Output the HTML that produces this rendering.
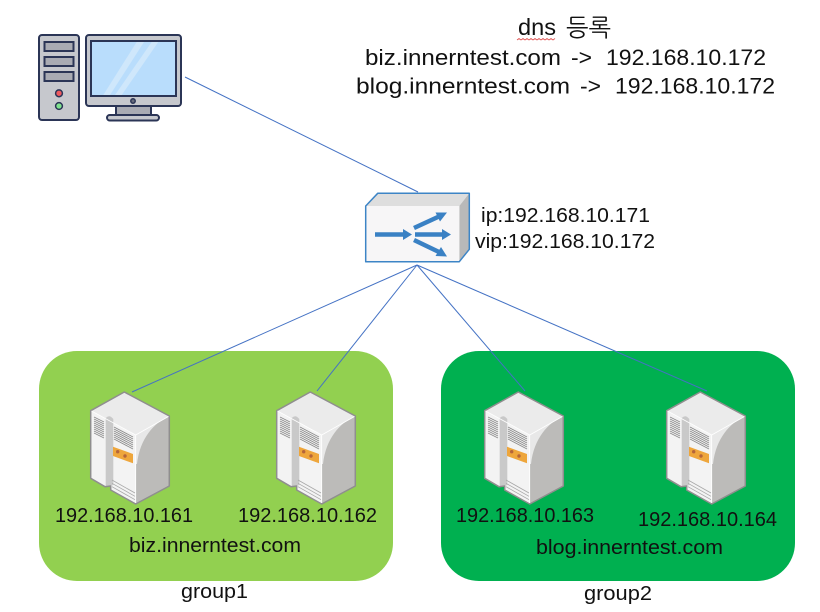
<!DOCTYPE html>
<html>
<head>
<meta charset="utf-8">
<style>
html,body{margin:0;padding:0;background:#fff;width:820px;height:612px;overflow:hidden}
svg{display:block}
text{font-family:"Liberation Sans","NanumGothic","Noto Sans CJK KR",sans-serif;fill:#111}
</style>
</head>
<body>
<svg width="820" height="612" viewBox="0 0 820 612" xmlns="http://www.w3.org/2000/svg">
<defs>
<g id="srv">
  <polygon points="34.3,0 79.3,24 45.7,43 0.7,18.7" fill="#ebebeb"/>
  <polygon points="0.7,18.7 45.7,43 45.7,112 20.7,98 20.7,94 15,94.7 0.7,86.3" fill="#f3f3f3"/>
  <polygon points="45.7,43 79.3,24 79.3,94 45.7,112" fill="#bcbbb9"/>
  <path d="M45.7,43 L79.3,24 C64,31 50,46 47,72 L45.7,72 Z" fill="#e8e8e8"/>
  <path d="M15.7,26 Q19.5,22 23.3,27 L23.3,93 L20.7,94 L15.7,94.700 Z" fill="#c9c9c9"/>
  <g stroke="#8a8a8a" stroke-width="0.8" fill="none">
    <path d="M4,25 L14,30 M4,27 L14,32 M4,29 L14,34 M4,31 L14,36 M4,33 L14,38 M4,35 L14,40 M4,37 L14,42 M4,39 L14,44 M4,41 L14,46"/>
    <path d="M24,35 L43,45 M24,37 L43,47 M24,39 L43,49 M24,41 L43,51 M24,43 L43,53 M24,45 L43,55 M24,47 L43,57"/>
    <path d="M22,88 L45,101 M22,91.300 L45,104.300 M22,94.700 L45,107.700" stroke="#a8a8a8"/>
  </g>
  <polygon points="23,54.700 43,62 43,71.300 23,64" fill="#eea63c"/>
  <circle cx="27.700" cy="59.700" r="1.700" fill="#b5653a"/>
  <circle cx="35" cy="64" r="1.700" fill="#b5653a"/>
  <polygon points="34.300,0 79.300,24 79.300,94 45.700,112 20.700,98 20.700,94 15,94.700 0.700,86.300 0.700,18.700" fill="none" stroke="#8f8e8e" stroke-width="1.500" stroke-linejoin="round"/>
  <path d="M1.500,19 L45.700,43 L78.500,24.500 M45.700,43 V111" fill="none" stroke="#fff" stroke-width="0.800"/>
</g>
</defs>

<rect x="39" y="351" width="354" height="230" rx="38" fill="#92d050"/>
<rect x="441" y="351" width="354" height="230" rx="38" fill="#00b050"/>

<g transform="translate(39,35)" stroke="#2b3556" stroke-width="2">
  <rect x="0" y="0" width="40" height="85" rx="3" fill="#c6c8cd"/>
  <rect x="5.500" y="7" width="29" height="9" fill="#a9abb3"/>
  <rect x="5.500" y="22" width="29" height="9" fill="#a9abb3"/>
  <rect x="5.500" y="37" width="29" height="9" fill="#a9abb3"/>
  <circle cx="20" cy="58.300" r="3.400" fill="#ef5a5f" stroke-width="1.500"/>
  <circle cx="20" cy="71" r="3.400" fill="#7fe28d" stroke-width="1.500"/>
  <rect x="47" y="0" width="95" height="71" rx="3" fill="#c6c8cd"/>
  <rect x="52" y="6" width="85" height="55" fill="#b9ddfc"/>
  <polygon points="64.300,60 97.700,7 105,7 71,60" fill="#cfe7fb" stroke="none"/>
  <polygon points="76,60 112.700,7 119.300,7 82.700,60" fill="#cfe7fb" stroke="none"/>
  <circle cx="94" cy="66" r="2.200" fill="#666b7c" stroke-width="1.500"/>
  <rect x="77" y="71" width="35" height="9" fill="#a9abb3"/>
  <rect x="68" y="80" width="52" height="5.500" rx="2.700" fill="#c6c8cd"/>
</g>

<g stroke="#4472c4" stroke-width="1" fill="none">
  <line x1="185" y1="77" x2="418" y2="192"/>
  <line x1="417" y1="265" x2="132" y2="392"/>
  <line x1="417" y1="265" x2="317" y2="391"/>
  <line x1="417" y1="265" x2="525" y2="391"/>
  <line x1="417" y1="265" x2="707" y2="391"/>
</g>

<g>
  <polygon points="365.700,206 377.700,193.300 469.300,193.300 459.300,206" fill="#dedede"/>
  <polygon points="459.300,206 469.300,193.300 469.300,249.300 459.300,261.700" fill="#b9b9b9"/>
  <rect x="365.700" y="206" width="93.600" height="55.700" fill="#f7f6f7"/>
  <polygon points="365.700,206 377.700,193.300 469.300,193.300 469.300,249.300 459.300,261.700 365.700,261.700" fill="none" stroke="#3d85c6" stroke-width="1.500" stroke-linejoin="round"/>
  <path d="M375,234.500 H403" stroke="#3a81c4" stroke-width="4.500"/>
  <polygon points="403,229 412,234.500 403,240" fill="#3a81c4"/>
  <path d="M415,234.500 H443" stroke="#3a81c4" stroke-width="4.500"/>
  <polygon points="442,229 451,234.500 442,240" fill="#3a81c4"/>
  <path d="M414,228 L439,216.500" stroke="#3a81c4" stroke-width="4.500"/>
  <polygon points="435.500,212.500 447,212.500 440,221.500" fill="#3a81c4"/>
  <path d="M414,240 L439,252" stroke="#3a81c4" stroke-width="4.500"/>
  <polygon points="441,247 447,256.500 435.500,256" fill="#3a81c4"/>
</g>

<use href="#srv" x="90" y="392"/>
<use href="#srv" x="276" y="392"/>
<use href="#srv" x="484" y="392"/>
<use href="#srv" x="666" y="392"/>

<text x="518" y="35" font-size="23" textLength="38" lengthAdjust="spacingAndGlyphs">dns</text>
<text x="566" y="36" font-size="24" textLength="45" lengthAdjust="spacingAndGlyphs">등록</text>
<path d="M517,40 l2,-1.500 l2,1.500 l2,-1.500 l2,1.500 l2,-1.500 l2,1.500 l2,-1.500 l2,1.500 l2,-1.500 l2,1.500 l2,-1.500 l2,1.500 l2,-1.500 l2,1.500 l2,-1.500 l2,1.500 l2,-1.500 l2,1.500 l2,-1.500" fill="none" stroke="#e0504f" stroke-width="0.800"/>

<text x="365" y="65" font-size="22.500" textLength="196" lengthAdjust="spacingAndGlyphs">biz.innerntest.com</text>
<text x="571" y="65" font-size="22.500" textLength="21" lengthAdjust="spacingAndGlyphs">-&gt;</text>
<text x="606" y="65" font-size="22.500" textLength="160" lengthAdjust="spacingAndGlyphs">192.168.10.172</text>
<text x="356" y="93.500" font-size="22.500" textLength="214" lengthAdjust="spacingAndGlyphs">blog.innerntest.com</text>
<text x="580" y="93.500" font-size="22.500" textLength="21" lengthAdjust="spacingAndGlyphs">-&gt;</text>
<text x="615" y="93.500" font-size="22.500" textLength="160" lengthAdjust="spacingAndGlyphs">192.168.10.172</text>

<text x="481" y="222" font-size="20" textLength="169" lengthAdjust="spacingAndGlyphs">ip:192.168.10.171</text>
<text x="475" y="248" font-size="20" textLength="180" lengthAdjust="spacingAndGlyphs">vip:192.168.10.172</text>

<text x="55" y="522" font-size="20" textLength="138" lengthAdjust="spacingAndGlyphs">192.168.10.161</text>
<text x="238" y="522" font-size="20" textLength="139" lengthAdjust="spacingAndGlyphs">192.168.10.162</text>
<text x="129" y="552" font-size="20" textLength="172" lengthAdjust="spacingAndGlyphs">biz.innerntest.com</text>
<text x="181" y="598" font-size="20" textLength="67" lengthAdjust="spacingAndGlyphs">group1</text>

<text x="456" y="522" font-size="20" textLength="138" lengthAdjust="spacingAndGlyphs">192.168.10.163</text>
<text x="638" y="526" font-size="20" textLength="139" lengthAdjust="spacingAndGlyphs">192.168.10.164</text>
<text x="536" y="554" font-size="20" textLength="187" lengthAdjust="spacingAndGlyphs">blog.innerntest.com</text>
<text x="584" y="600" font-size="20" textLength="68" lengthAdjust="spacingAndGlyphs">group2</text>
</svg>
</body>
</html>
